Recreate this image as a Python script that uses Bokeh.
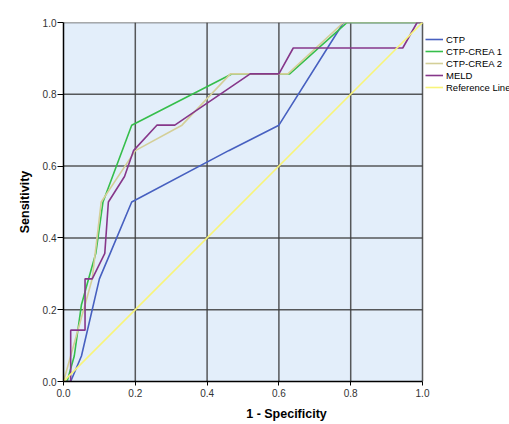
from bokeh.plotting import figure
from bokeh.models import Legend, LegendItem, FixedTicker
from bokeh.embed import file_html
from bokeh.resources import INLINE

# ---- data ----
series_names = ["CTP", "CTP-CREA 1", "CTP-CREA 2", "MELD", "Reference Line"]

ctp_x = [0.0, 0.02, 0.05, 0.10, 0.13, 0.19, 0.46, 0.60, 0.78, 1.0]
ctp_y = [0.0, 0.0, 0.071, 0.286, 0.357, 0.5, 0.643, 0.714, 1.0, 1.0]

crea1_x = [0.0, 0.01, 0.03, 0.05, 0.07, 0.09, 0.11, 0.19, 0.47, 0.63, 0.79, 1.0]
crea1_y = [0.0, 0.0, 0.071, 0.214, 0.286, 0.357, 0.5, 0.714, 0.857, 0.857, 1.0, 1.0]

crea2_x = [0.0, 0.02, 0.04, 0.06, 0.08, 0.105, 0.20, 0.33, 0.465, 0.625, 0.78, 1.0]
crea2_y = [0.0, 0.071, 0.143, 0.214, 0.286, 0.5, 0.643, 0.714, 0.857, 0.857, 1.0, 1.0]

meld_x = [0.0, 0.02, 0.02, 0.06, 0.06, 0.08, 0.115, 0.125, 0.17, 0.195, 0.26, 0.31, 0.52, 0.60, 0.64, 0.945, 0.985, 1.0]
meld_y = [0.0, 0.0, 0.143, 0.143, 0.286, 0.286, 0.357, 0.5, 0.571, 0.643, 0.714, 0.714, 0.857, 0.857, 0.929, 0.929, 1.0, 1.0]

ref_x = [0.0, 1.0]
ref_y = [0.0, 1.0]

tick_values = [0.0, 0.2, 0.4, 0.6, 0.8, 1.0]
tick_labels = ["0.0", "0.2", "0.4", "0.6", "0.8", "1.0"]

axis_lo, axis_hi = 0.0, 1.0

colors = ["#4760C0", "#36BE4B", "#D4CF98", "#86378A", "#F8F47A"]

# frame spans the plot area plus the legend strip on the right
FRAME_LEFT, PLOT_W = 63, 359
x_extent = (509 - FRAME_LEFT) / PLOT_W

p = figure(width=509, height=424, output_backend="svg", toolbar_location=None,
           x_range=(axis_lo, axis_hi * x_extent), y_range=(axis_lo, axis_hi),
           min_border_left=FRAME_LEFT, min_border_right=0, min_border_top=22, min_border_bottom=43,
           background_fill_color="white", border_fill_color="white")
p.outline_line_color = None
p.grid.visible = False

# plot area background
p.quad(left=[axis_lo], right=[axis_hi], bottom=[axis_lo], top=[axis_hi],
       fill_color="#E3EEFA", line_color=None)

# grid lines at the tick positions, limited to the plot area
inner = [t for t in tick_values if t > axis_lo]
p.segment(x0=inner, y0=[axis_lo] * len(inner), x1=inner, y1=[axis_hi] * len(inner),
          line_color="#3c3c3c", line_width=1.5, line_alpha=0.85)
p.segment(x0=[axis_lo] * len(inner), y0=inner, x1=[axis_hi] * len(inner), y1=inner,
          line_color="#3c3c3c", line_width=1.5, line_alpha=0.85)

for ax in (p.xaxis[0], p.yaxis[0]):
    ax.ticker = FixedTicker(ticks=tick_values)
    ax.major_label_overrides = {v: s for v, s in zip(tick_values, tick_labels)}
    ax.bounds = (axis_lo, axis_hi)
    ax.minor_tick_line_color = None
    ax.major_tick_in = 0
    ax.major_tick_line_color = "black"
    ax.axis_line_color = "black"
    ax.axis_line_width = 1.5
    ax.major_label_text_font = "Liberation Sans"
    ax.major_label_text_font_size = "10px"
    ax.major_label_text_color = "#333333"
    ax.axis_label_text_font = "Liberation Sans"
    ax.axis_label_text_font_size = "12.5px"
    ax.axis_label_text_font_style = "bold"
    ax.axis_label_text_color = "black"

p.xaxis.axis_label = "1 - Specificity"
p.yaxis.axis_label = "Sensitivity"
p.xaxis.major_tick_out = 4
p.yaxis.major_tick_out = 6
p.xaxis.major_label_standoff = 3
p.yaxis.major_label_standoff = 1
p.xaxis.axis_label_standoff = 7
p.yaxis.axis_label_standoff = 8

xs = [ctp_x, crea1_x, crea2_x, meld_x, ref_x]
ys = [ctp_y, crea1_y, crea2_y, meld_y, ref_y]
items = []
for name, x, y, c in zip(series_names, xs, ys, colors):
    r = p.line(x, y, line_color=c, line_width=1.6)
    items.append(LegendItem(label=name, renderers=[r]))

legend = Legend(items=items, location=(PLOT_W + 3, 288), padding=0, margin=0, spacing=0,
                glyph_width=18, glyph_height=12, label_height=12, label_standoff=3,
                label_text_font="Liberation Sans", label_text_font_size="9.5px",
                label_text_color="black", background_fill_alpha=0, border_line_color=None)
p.add_layout(legend)

open("out.html", "w").write(file_html(p, INLINE))
